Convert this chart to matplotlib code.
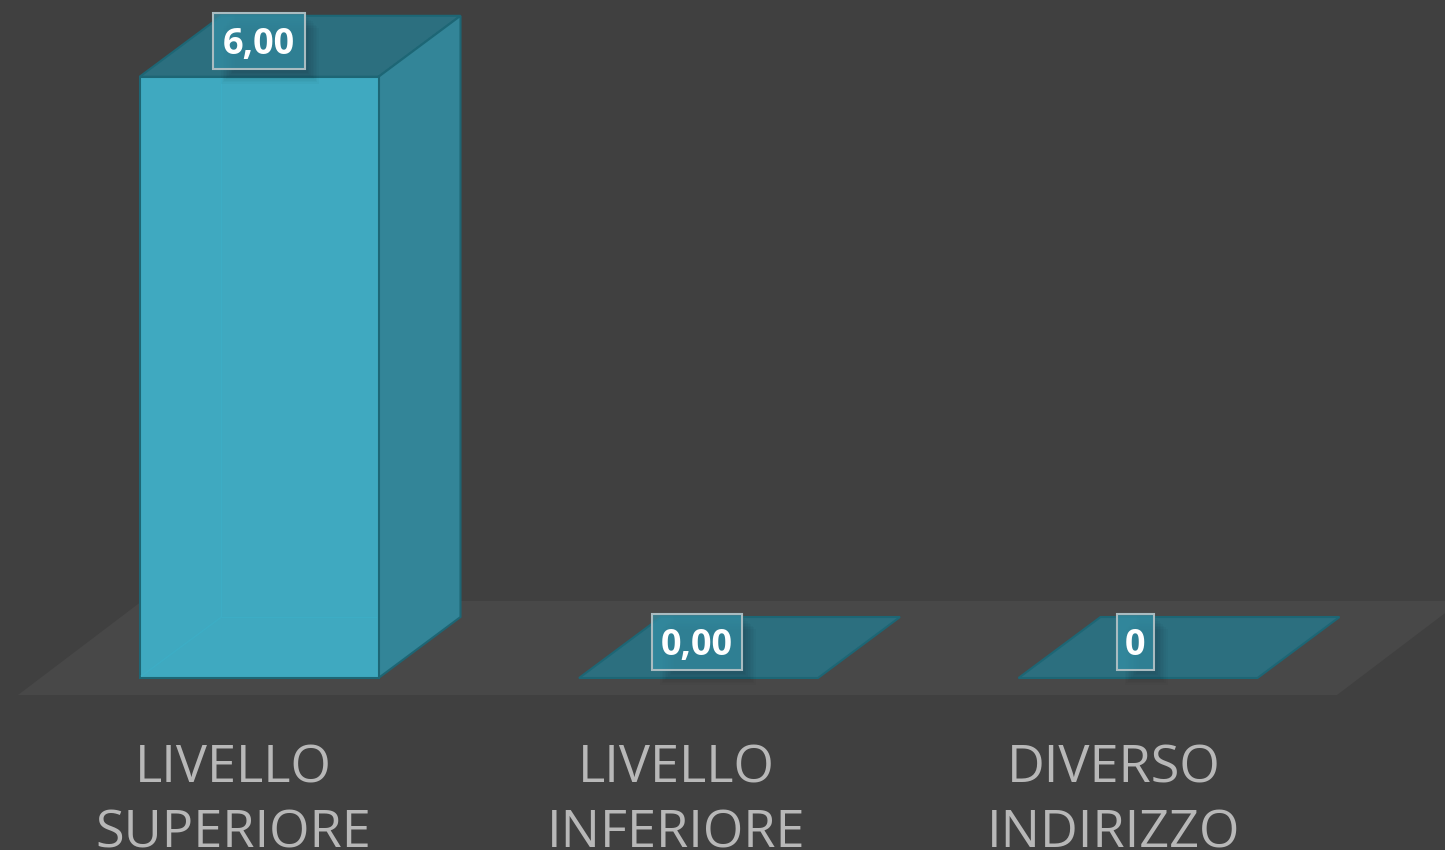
import matplotlib
matplotlib.use("Agg")
import matplotlib.pyplot as plt
from matplotlib.patches import Polygon, Rectangle

categories = ["LIVELLO\nSUPERIORE", "LIVELLO\nINFERIORE", "DIVERSO\nINDIRIZZO"]
values = [6.0, 0.0, 0.0]
value_labels = ["6,00", "0,00", "0"]

W, H = 1445, 850
# one category step and one value unit, in pixels
step_px = 439.5
unit_px = 100.2
x0_px = 259
y0_px = 678

bar_w = 239 / step_px
depth_x = 82 / step_px
depth_y = 61 / unit_px
box_w = [92 / step_px, 90 / step_px, 37 / step_px]
box_h = 56 / unit_px
box_gap = 36 / unit_px
box_shift = [0, -1.5 / step_px, -3 / step_px]
label_shift = [-26 / step_px, -22.5 / step_px, -24 / step_px]

BG = "#404040"
FLOOR = "#484848"
FRONT = "#3fa9c0"
SIDE = "#338598"
TOP = "#2c6f7f"
EDGE = "#1d6675"

fig = plt.figure(figsize=(W / 100, H / 100), dpi=100, facecolor=BG)
ax = fig.add_axes([0, 0, 1, 1])
ax.set_xlim(-x0_px / step_px, (W - x0_px) / step_px)
ax.set_ylim(-(H - y0_px) / unit_px, y0_px / unit_px)
ax.axis("off")

# floor of the 3d chart
fl = 17 / unit_px
fx = -241 / step_px
fw = 1319 / step_px
fd_y = 94 / unit_px
fd_x = 124 / step_px
ax.add_patch(Polygon([(fx, -fl), (fx + fw, -fl), (fx + fw + fd_x, -fl + fd_y), (fx + fd_x, -fl + fd_y)],
                     fc=FLOOR, ec="none", zorder=1))

for i, v in enumerate(values):
    l = i - bar_w / 2
    r = i + bar_w / 2
    # top face
    ax.add_patch(Polygon([(l, v), (r, v), (r + depth_x, v + depth_y), (l + depth_x, v + depth_y)],
                         fc=TOP, ec=EDGE, lw=1.5, zorder=3))
    if v > 0:
        ax.add_patch(Polygon([(r, 0), (r + depth_x, depth_y), (r + depth_x, v + depth_y), (r, v)],
                             fc=SIDE, ec=EDGE, lw=1.5, zorder=3))
        ax.add_patch(Rectangle((l, 0), bar_w, v, fc=FRONT, ec=EDGE, lw=1.5, zorder=4))
        # hidden back edges just showing through the front face
        inner = r - 3 / step_px
        ax.plot([l + 2 / step_px, l + depth_x, l + depth_x], [2 / unit_px, depth_y, v - 2 / unit_px],
                color="#3dadc5", lw=1, zorder=5)
        ax.plot([l + depth_x, inner], [depth_y, depth_y], color="#3dadc5", lw=1, zorder=5)

    # soft shadow under the value box
    cx = i + box_shift[i]
    cy = v + box_gap
    bl = cx - box_w[i] / 2
    bb = cy - box_h / 2
    for k in range(10):
        inset = k * 1.6
        ax.add_patch(Rectangle((bl + (8 + inset) / step_px, bb - (15 - inset) / unit_px),
                               box_w[i] + (6 - 2 * inset) / step_px, box_h,
                               fc="black", ec="none", alpha=0.022, zorder=6))
    ax.add_patch(Rectangle((bl, bb), box_w[i], box_h, fc="#348fa5", alpha=0.75, ec="none", zorder=7))
    ax.add_patch(Rectangle((bl, bb), box_w[i], box_h, fc="none", ec="#a9bcc1", lw=1.5, zorder=8))
    ax.text(cx, cy - 4 / unit_px, value_labels[i], color="white", fontsize=26, fontweight="bold",
            family="Open Sans", ha="center", va="center", zorder=9)

    line1, line2 = categories[i].split("\n")
    ax.text(i + label_shift[i], -91 / unit_px, line1, color="#b8b8b8", fontsize=37.5,
            family="Open Sans", ha="center", va="center", zorder=2)
    ax.text(i + label_shift[i], -156 / unit_px, line2, color="#b8b8b8", fontsize=37.5,
            family="Open Sans", ha="center", va="center", zorder=2)

fig.savefig("out.png", dpi=100, facecolor=BG)
